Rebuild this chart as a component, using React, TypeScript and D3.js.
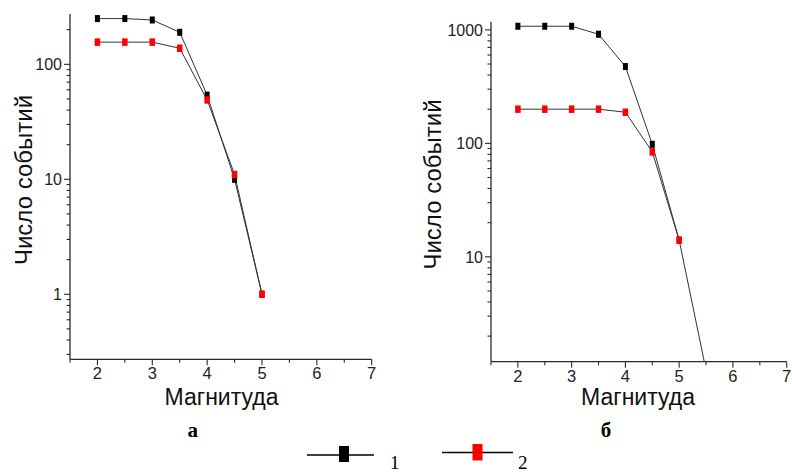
import React from "react";
import * as d3 from "d3";

const magnitudesA = [2, 2.5, 3, 3.5, 4, 4.5, 5];
const seriesA1 = [250, 250, 243, 190, 54, 10, 1];
const seriesA2 = [156, 156, 156, 138, 49, 11, 1];

const magnitudesB1 = [2, 2.5, 3, 3.5, 4, 4.5, 5, 5.5];
const seriesB1 = [1076, 1076, 1076, 915, 475, 98, 14, 1];
const magnitudesB2 = [2, 2.5, 3, 3.5, 4, 4.5, 5];
const seriesB2 = [200, 200, 200, 200, 188, 84, 14];

const xMajorTicks = [2, 3, 4, 5, 6, 7];
const xMinorTicks = [1.5, 2.5, 3.5, 4.5, 5.5, 6.5];
const yLabelsA = [1, 10, 100];
const yLabelsB = [10, 100, 1000];

const xTitle = "Магнитуда";
const yTitle = "Число событий";
const panelLabels = ["а", "б"];
const legendLabels = ["1", "2"];

const AXIS = "#2a2a2a";
const LINE = "#333";
const SANS = "Arial, 'Liberation Sans', sans-serif";
const SERIF = "'Times New Roman', 'Liberation Serif', serif";

type Series = { xs: number[]; ys: number[]; color: string; mw: number; mh: number };

function Panel(props: {
  id: string;
  x0: number; x1: number; y0: number; y1: number;
  yDomain: [number, number];
  yLabels: number[];
  series: Series[];
  titleX: number; titleBase: number;
  yTitleX: number; yTitleY: number;
}) {
  const { id, x0, x1, y0, y1, yDomain, yLabels, series } = props;
  const x = d3.scaleLinear().domain([1.5, 7]).range([x0, x1]);
  const y = d3.scaleLog().domain(yDomain).range([y0, y1]);
  const minor: number[] = [];
  for (let e = -2; e <= 4; e++) {
    for (let m = 1; m <= 9; m++) {
      const v = m * Math.pow(10, e);
      if (v >= yDomain[0] && v <= yDomain[1]) minor.push(v);
    }
  }
  const line = d3
    .line<[number, number]>()
    .x((d) => x(d[0]))
    .y((d) => y(d[1]));
  return (
    <g>
      <defs>
        <clipPath id={id}>
          <rect x={x0} y={y1 - 5} width={x1 - x0 + 5} height={y0 - y1 + 5} />
        </clipPath>
      </defs>
      <line x1={x0} x2={x0} y1={y1} y2={y0} stroke={AXIS} strokeWidth={1.3} />
      <line x1={x0} x2={x1} y1={y0} y2={y0} stroke={AXIS} strokeWidth={1.3} />
      {minor.map((v) => {
        const major = yLabels.includes(v);
        return (
          <line key={"ym" + v} x1={x0 - (major ? 6 : 3.5)} x2={x0} y1={y(v)} y2={y(v)} stroke={AXIS} strokeWidth={1.1} />
        );
      })}
      {yLabels.map((v) => (
        <text key={"yl" + v} x={x0 - 8} y={y(v)} dy="0.36em" textAnchor="end" fontFamily={SANS} fontSize={16} fill="#222">
          {v}
        </text>
      ))}
      {xMajorTicks.map((v) => (
        <g key={"xM" + v}>
          <line x1={x(v)} x2={x(v)} y1={y0} y2={y0 + 6} stroke={AXIS} strokeWidth={1.1} />
          <text x={x(v)} y={y0 + 20} textAnchor="middle" fontFamily={SANS} fontSize={16.5} fill="#222">
            {v}
          </text>
        </g>
      ))}
      {xMinorTicks.map((v) => (
        <line key={"xm" + v} x1={x(v)} x2={x(v)} y1={y0} y2={y0 + 3.5} stroke={AXIS} strokeWidth={1.1} />
      ))}
      <g clipPath={`url(#${id})`}>
        {series.map((s, i) => (
          <path
            key={"l" + i}
            d={line(s.xs.map((xv, j) => [xv, s.ys[j]] as [number, number])) || ""}
            fill="none"
            stroke={LINE}
            strokeWidth={1}
          />
        ))}
        {series.map((s, i) =>
          s.xs.map((xv, j) =>
            s.ys[j] >= yDomain[0] ? (
              <rect
                key={"m" + i + "-" + j}
                x={x(xv) - s.mw / 2}
                y={y(s.ys[j]) - s.mh / 2}
                width={s.mw}
                height={s.mh}
                fill={s.color}
              />
            ) : null
          )
        )}
      </g>
      <text x={props.titleX} y={props.titleBase} textAnchor="middle" fontFamily={SANS} fontSize={23} fill="#111">
        {xTitle}
      </text>
      <text
        transform={`translate(${props.yTitleX},${props.yTitleY}) rotate(-90)`}
        textAnchor="middle"
        fontFamily={SANS}
        fontSize={24}
        fill="#111"
      >
        {yTitle}
      </text>
    </g>
  );
}

export default function App() {
  return (
    <svg width={792} height={473} style={{ position: "absolute", left: 0, top: 0, background: "#fff" }}>
      <rect width={792} height={473} fill="#fff" />
      <Panel
        id="clipA"
        x0={70}
        x1={371.7}
        y0={359.3}
        y1={14}
        yDomain={[0.272, 274]}
        yLabels={yLabelsA}
        series={[
          { xs: magnitudesA, ys: seriesA1, color: "#000", mw: 5, mh: 7 },
          { xs: magnitudesA, ys: seriesA2, color: "#ff0000", mw: 5.5, mh: 7.5 },
        ]}
        titleX={221.5}
        titleBase={405}
        yTitleX={32}
        yTitleY={180}
      />
      <Panel
        id="clipB"
        x0={491}
        x1={786.7}
        y0={361.7}
        y1={21.7}
        yDomain={[1.19, 1180]}
        yLabels={yLabelsB}
        series={[
          { xs: magnitudesB1, ys: seriesB1, color: "#000", mw: 5, mh: 7 },
          { xs: magnitudesB2, ys: seriesB2, color: "#ff0000", mw: 5.5, mh: 7.5 },
        ]}
        titleX={638}
        titleBase={405}
        yTitleX={441}
        yTitleY={184.5}
      />
      <text x={192.7} y={437} textAnchor="middle" fontFamily={SERIF} fontWeight="bold" fontSize={21} fill="#000">
        {panelLabels[0]}
      </text>
      <text x={606} y={437} textAnchor="middle" fontFamily={SERIF} fontWeight="bold" fontSize={21} fill="#000">
        {panelLabels[1]}
      </text>
      <line x1={307} x2={374} y1={455} y2={455} stroke="#000" strokeWidth={1.5} />
      <rect x={339} y={446} width={10} height={16} fill="#000" />
      <text x={390} y={469} fontFamily={SERIF} fontSize={19} fill="#000">
        {legendLabels[0]}
      </text>
      <line x1={442} x2={513} y1={452.5} y2={452.5} stroke="#000" strokeWidth={1.5} />
      <rect x={472.5} y={444} width={10} height={16.5} fill="#ff0000" />
      <text x={518} y={469} fontFamily={SERIF} fontSize={19} fill="#000">
        {legendLabels[1]}
      </text>
    </svg>
  );
}
